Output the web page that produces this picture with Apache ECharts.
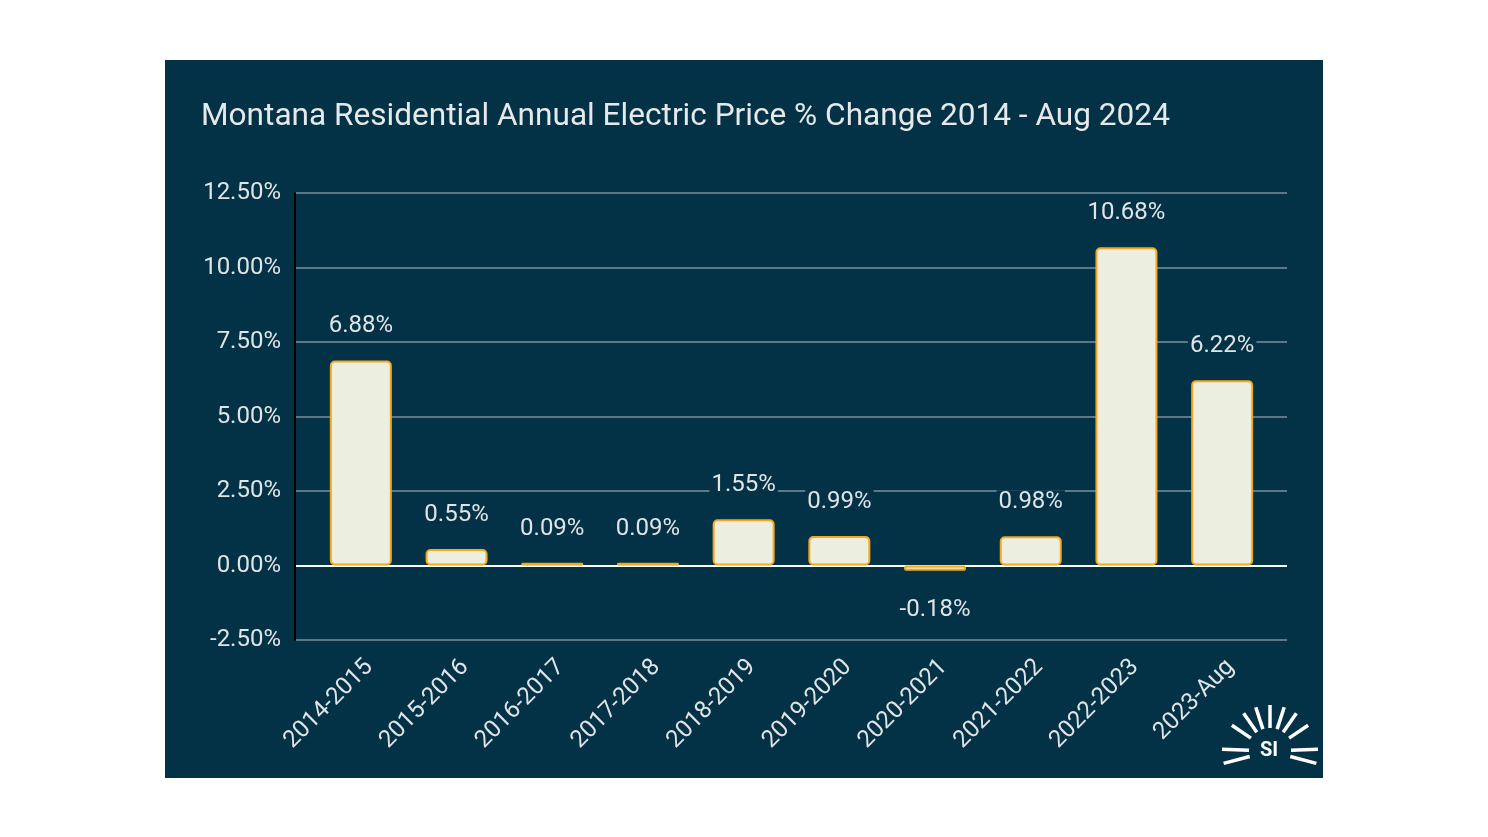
<!DOCTYPE html>
<html>
<head>
<meta charset="utf-8">
<script src="https://cdn.jsdelivr.net/npm/echarts@6/dist/echarts.min.js"></script>
<style>
html,body{margin:0;padding:0;background:#ffffff;width:1488px;height:837px;overflow:hidden;}
#panel{position:absolute;left:165px;top:60px;width:1158px;height:718px;background:#033247;}
#chart{position:absolute;left:0;top:0;width:1488px;height:837px;}
</style>
</head>
<body>
<div id="panel"></div>
<div id="chart"></div>
<script>
const categories = ['2014-2015','2015-2016','2016-2017','2017-2018','2018-2019','2019-2020','2020-2021','2021-2022','2022-2023','2023-Aug'];
const values = [6.88, 0.55, 0.09, 0.09, 1.55, 0.99, -0.18, 0.98, 10.68, 6.22];
const titleText = 'Montana Residential Annual Electric Price % Change 2014 - Aug 2024';

const navy = '#033247';
const gridColor = '#5b7886';
const textColor = '#e0e4e6';
const cx = 1270, cy = 751;
const rayAngles = [-15, 2, 34, 55, 72, 90, 108, 125, 146, 178, 195];
const rays = rayAngles.map(a => {
  const r = a * Math.PI / 180;
  const horiz = Math.abs(Math.cos(r)) > 0.9;
  const r0 = horiz ? 21 : 23, r1 = horiz ? 48 : 46;
  return {
    type: 'line',
    shape: {x1: cx + r0 * Math.cos(r), y1: cy - r0 * Math.sin(r), x2: cx + r1 * Math.cos(r), y2: cy - r1 * Math.sin(r)},
    style: {stroke: '#ffffff', lineWidth: 3.5, lineCap: 'butt'},
    silent: true
  };
});

const seriesData = values.map(v => v < 0 ? {value: v, label: {position: 'bottom', distance: 27}} : v);

const chart = echarts.init(document.getElementById('chart'), null, {renderer: 'canvas'});
chart.setOption({
  backgroundColor: 'transparent',
  animation: false,
  title: {
    text: titleText,
    left: 196, top: 96,
    textStyle: {color: '#e6e8ea', fontFamily: 'Roboto', fontWeight: 'normal', fontSize: 31.6}
  },
  grid: [
    {left: 295, right: 201, top: 193, bottom: 197},
    {left: 313, right: 218, top: 193, bottom: 197}
  ],
  xAxis: [
    {type: 'value', gridIndex: 0, show: false, min: 0, max: 1},
    {
      type: 'category', gridIndex: 1,
      data: categories,
      axisLine: {show: false},
      axisTick: {show: false},
      axisLabel: {rotate: 45, color: textColor, fontFamily: 'Roboto', fontSize: 24, margin: 15, interval: 0, verticalAlign: 'top'}
    }
  ],
  yAxis: [
    {
      type: 'value', gridIndex: 0,
      min: -2.5, max: 12.5, interval: 2.5,
      axisLine: {show: true, lineStyle: {color: '#000000', width: 2}},
      axisTick: {show: false},
      splitLine: {lineStyle: {color: [gridColor, '#ffffff', gridColor, gridColor, gridColor, gridColor, gridColor], width: 2}},
      axisLabel: {color: textColor, fontFamily: 'Roboto', fontSize: 24, margin: 14,
        formatter: v => v.toFixed(2) + '%'}
    },
    {
      type: 'value', gridIndex: 1,
      min: -2.5, max: 12.5, interval: 2.5,
      show: false, splitLine: {show: false}
    }
  ],
  series: [{
    type: 'bar',
    xAxisIndex: 1, yAxisIndex: 1,
    data: seriesData,
    barWidth: 62,
    itemStyle: {color: '#eceee0', borderColor: '#f4a81c', borderWidth: 2, borderRadius: 4},
    label: {
      show: true,
      position: 'top',
      distance: 22,
      color: textColor,
      fontFamily: 'Roboto',
      fontSize: 24,
      backgroundColor: navy,
      padding: [0, 2],
      formatter: p => p.value.toFixed(2) + '%'
    }
  }],
  graphic: [
    ...rays,
    {type: 'text', x: cx - 1, y: cy, silent: true,
     style: {text: 'SI', fill: '#ffffff', font: 'bold 20px Roboto', align: 'center', verticalAlign: 'middle'}}
  ]
});
</script>
</body>
</html>
